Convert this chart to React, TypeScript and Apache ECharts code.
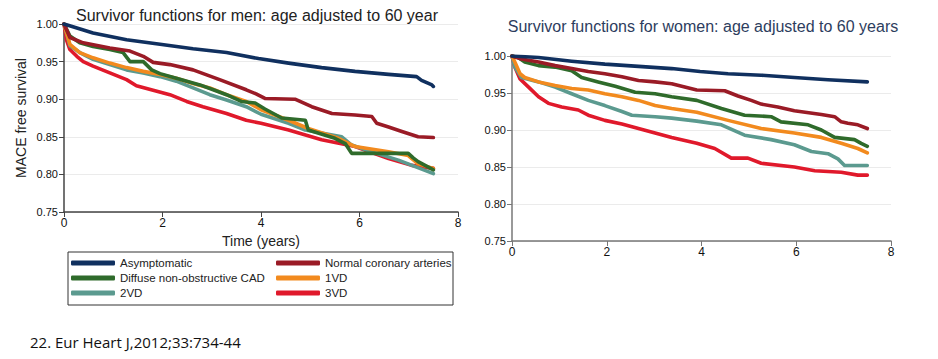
import React, { useEffect, useRef } from "react";
import * as echarts from "echarts";

const seriesNames = ["Asymptomatic", "Normal coronary arteries", "Diffuse non-obstructive CAD", "1VD", "2VD", "3VD"];
const seriesColors = ["#10305f", "#9a1b26", "#2f6b2b", "#f28a1e", "#5b9a8f", "#e0192b"];

const xTicks = [0, 2, 4, 6, 8];
const yTicks = [0.75, 0.8, 0.85, 0.9, 0.95, 1.0];

// Men: [time (years), MACE free survival]
const menAsymptomatic = [[0, 1], [0.59, 0.988], [1.27, 0.979], [1.95, 0.973], [2.62, 0.967], [3.3, 0.962], [3.95, 0.954], [4.56, 0.948], [5.23, 0.942], [5.91, 0.937], [6.59, 0.933], [7.16, 0.93], [7.26, 0.925], [7.47, 0.919], [7.5, 0.917]];
const menNormal = [[0, 1], [0.12, 0.982], [0.39, 0.975], [0.93, 0.968], [1.34, 0.964], [1.61, 0.957], [1.81, 0.949], [2.15, 0.946], [2.62, 0.939], [3.16, 0.926], [3.7, 0.9125], [3.9, 0.907], [4.08, 0.901], [4.69, 0.9], [5.03, 0.89], [5.44, 0.881], [5.91, 0.879], [6.25, 0.877], [6.35, 0.868], [6.59, 0.863], [6.86, 0.857], [7.19, 0.85], [7.5, 0.849]];
const menDiffuse = [[0, 1], [0.12, 0.984], [0.32, 0.975], [0.59, 0.97], [0.93, 0.966], [1.2, 0.962], [1.34, 0.95], [1.61, 0.95], [1.78, 0.939], [1.95, 0.934], [2.28, 0.928], [2.76, 0.919], [3.03, 0.9125], [3.3, 0.906], [3.6, 0.897], [3.88, 0.895], [4.08, 0.887], [4.42, 0.875], [4.9, 0.872], [4.96, 0.859], [5.5, 0.848], [5.71, 0.841], [5.84, 0.828], [6.99, 0.828], [7.09, 0.822], [7.19, 0.817], [7.5, 0.806]];
const men1VD = [[0, 1], [0.12, 0.973], [0.32, 0.962], [0.59, 0.955], [0.93, 0.948], [1.27, 0.942], [1.61, 0.937], [1.95, 0.933], [2.28, 0.928], [2.62, 0.921], [2.96, 0.915], [3.3, 0.906], [3.7, 0.897], [4.0, 0.886], [4.56, 0.872], [4.96, 0.861], [5.57, 0.848], [5.91, 0.837], [6.59, 0.83], [6.99, 0.825], [7.19, 0.814], [7.5, 0.808]];
const men2VD = [[0, 1], [0.12, 0.971], [0.32, 0.962], [0.59, 0.953], [0.93, 0.946], [1.27, 0.939], [1.61, 0.935], [1.95, 0.93], [2.28, 0.924], [2.62, 0.915], [2.96, 0.906], [3.3, 0.899], [3.7, 0.89], [4.0, 0.88], [4.56, 0.868], [4.9, 0.859], [5.64, 0.85], [5.84, 0.839], [6.25, 0.83], [6.79, 0.819], [7.5, 0.801]];
const men3VD = [[0, 1], [0.05, 0.979], [0.12, 0.966], [0.26, 0.957], [0.39, 0.95], [0.59, 0.944], [0.93, 0.935], [1.27, 0.926], [1.47, 0.918], [1.81, 0.912], [2.15, 0.906], [2.49, 0.897], [2.82, 0.89], [3.3, 0.881], [3.7, 0.872], [4.0, 0.868], [4.56, 0.859], [5.23, 0.846], [5.91, 0.837], [6.59, 0.821], [7.06, 0.812], [7.5, 0.808]];

// Women: [time (years), MACE free survival]
const womenAsymptomatic = [[0, 1], [0.56, 0.998], [1.26, 0.993], [1.96, 0.989], [2.67, 0.986], [3.37, 0.983], [3.97, 0.979], [4.56, 0.976], [5.26, 0.974], [5.96, 0.971], [6.67, 0.968], [7.5, 0.965]];
const womenNormal = [[0, 1], [0.2, 0.996], [0.56, 0.992], [0.91, 0.987], [1.26, 0.983], [1.61, 0.979], [1.96, 0.976], [2.32, 0.972], [2.67, 0.967], [3.02, 0.965], [3.37, 0.9625], [3.9, 0.954], [4.49, 0.953], [4.77, 0.946], [5.05, 0.94], [5.26, 0.935], [5.61, 0.931], [5.96, 0.926], [6.53, 0.921], [6.81, 0.918], [6.95, 0.911], [7.09, 0.909], [7.3, 0.907], [7.5, 0.902]];
const womenDiffuse = [[0, 1], [0.13, 0.998], [0.27, 0.992], [0.56, 0.987], [0.91, 0.985], [1.26, 0.98], [1.47, 0.971], [1.82, 0.965], [2.18, 0.959], [2.6, 0.951], [3.02, 0.949], [3.37, 0.945], [3.9, 0.94], [4.42, 0.929], [4.91, 0.92], [5.47, 0.918], [5.68, 0.911], [6.25, 0.907], [6.53, 0.9], [6.81, 0.89], [7.23, 0.887], [7.37, 0.882], [7.5, 0.878]];
const women1VD = [[0, 1], [0.06, 0.992], [0.17, 0.976], [0.27, 0.971], [0.56, 0.965], [0.91, 0.96], [1.26, 0.956], [1.61, 0.954], [1.96, 0.949], [2.32, 0.945], [2.67, 0.94], [3.02, 0.933], [3.37, 0.929], [3.9, 0.924], [4.56, 0.913], [5.26, 0.902], [5.96, 0.896], [6.53, 0.89], [6.95, 0.882], [7.3, 0.875], [7.5, 0.869]];
const women2VD = [[0, 1], [0.06, 0.985], [0.2, 0.971], [0.56, 0.965], [0.91, 0.958], [1.26, 0.949], [1.61, 0.94], [1.96, 0.933], [2.32, 0.925], [2.53, 0.92], [3.02, 0.918], [3.37, 0.916], [3.9, 0.912], [4.42, 0.907], [4.91, 0.893], [5.47, 0.887], [5.96, 0.88], [6.32, 0.871], [6.67, 0.868], [6.88, 0.861], [7.02, 0.852], [7.5, 0.852]];
const women3VD = [[0, 1], [0.06, 0.985], [0.17, 0.969], [0.35, 0.958], [0.56, 0.945], [0.77, 0.936], [1.05, 0.931], [1.4, 0.927], [1.61, 0.92], [1.96, 0.913], [2.32, 0.908], [2.67, 0.902], [3.02, 0.896], [3.37, 0.89], [3.9, 0.882], [4.28, 0.875], [4.63, 0.862], [4.98, 0.862], [5.26, 0.855], [5.96, 0.85], [6.39, 0.845], [6.95, 0.843], [7.3, 0.839], [7.5, 0.839]];

const menData = [menAsymptomatic, menNormal, menDiffuse, men1VD, men2VD, men3VD];
const womenData = [womenAsymptomatic, womenNormal, womenDiffuse, women1VD, women2VD, women3VD];

const FONT = "'Liberation Sans', Arial, sans-serif";

export default function App() {
  const ref = useRef<HTMLDivElement>(null);
  useEffect(() => {
    const chart = echarts.init(ref.current!, null, { renderer: "svg" });
    const xAxisBase = (gridIndex: number, axisColor: string) => ({
      type: "value",
      gridIndex,
      min: xTicks[0],
      max: xTicks[xTicks.length - 1],
      interval: 2,
      axisLine: { show: true, lineStyle: { color: axisColor, width: 1.5 } },
      axisTick: { show: true, length: 5, lineStyle: { color: axisColor } },
      axisLabel: { color: "#111", fontSize: 12, fontFamily: FONT, margin: 5 },
      splitLine: { show: false },
    });
    const yAxisBase = (gridIndex: number, axisColor: string) => ({
      type: "value",
      gridIndex,
      min: yTicks[0],
      max: yTicks[yTicks.length - 1],
      interval: 0.05,
      axisLine: { show: true, lineStyle: { color: axisColor, width: 1.5 } },
      axisTick: { show: true, length: 5, lineStyle: { color: axisColor } },
      axisLabel: {
        color: "#111",
        fontSize: 11,
        fontFamily: FONT,
        margin: 6,
        formatter: (v: number) => v.toFixed(2),
      },
      splitLine: { show: true, lineStyle: { color: "#ebebeb", width: 1 } },
    });
    const makeSeries = (data: number[][][], axisIndex: number) =>
      data.map((d, i) => ({
        name: seriesNames[i],
        type: "line",
        xAxisIndex: axisIndex,
        yAxisIndex: axisIndex,
        data: d,
        showSymbol: false,
        symbol: "none",
        color: seriesColors[i],
        lineStyle: { width: 3.6, color: seriesColors[i], cap: "round", join: "round" },
        z: 10 - i,
      }));
    const legendBase = {
      orient: "vertical",
      top: 257,
      itemWidth: 44,
      itemHeight: 5,
      itemGap: 3,
      icon: "roundRect",
      selectedMode: false,
      textStyle: { fontSize: 11.5, color: "#222", fontFamily: FONT },
      padding: 0,
    };
    chart.setOption({
      animation: false,
      backgroundColor: "#ffffff",
      title: [
        {
          text: "Survivor functions for men: age adjusted to 60 year",
          left: 252,
          textAlign: "center",
          top: 2,
          textStyle: { fontSize: 16, fontWeight: "normal", color: "#222", fontFamily: FONT },
        },
        {
          text: "Survivor functions for women: age adjusted to 60 years",
          left: 698,
          textAlign: "center",
          top: 13,
          textStyle: { fontSize: 16, fontWeight: "normal", color: "#2d3d5e", fontFamily: FONT },
        },
      ],
      grid: [
        { left: 64, top: 24, width: 394, height: 188 },
        { left: 512, top: 56, width: 379, height: 185 },
      ],
      xAxis: [
        {
          ...xAxisBase(0, "#444"),
          name: "Time (years)",
          nameLocation: "middle",
          nameGap: 21,
          nameTextStyle: { fontSize: 14, color: "#222", fontFamily: FONT },
        },
        xAxisBase(1, "#777"),
      ],
      yAxis: [
        {
          ...yAxisBase(0, "#444"),
          name: "MACE free survival",
          nameLocation: "middle",
          nameGap: 36,
          nameTextStyle: { fontSize: 14, color: "#222", fontFamily: FONT },
        },
        yAxisBase(1, "#777"),
      ],
      legend: [
        { ...legendBase, left: 71, data: [seriesNames[0], seriesNames[2], seriesNames[4]] },
        { ...legendBase, left: 276, data: [seriesNames[1], seriesNames[3], seriesNames[5]] },
      ],
      graphic: [
        {
          type: "rect",
          shape: { x: 68, y: 252, width: 385, height: 53 },
          style: { fill: "none", stroke: "#333", lineWidth: 1 },
          silent: true,
        },
        {
          type: "text",
          x: 30,
          y: 334,
          style: {
            text: "22. Eur Heart J,2012;33:734-44",
            fontSize: 15,
            fill: "#111",
            fontFamily: "'Open Sans', 'Noto Sans', sans-serif",
          },
        },
      ],
      series: [...makeSeries(menData, 0), ...makeSeries(womenData, 1)],
    });
    return () => chart.dispose();
  }, []);
  return (
    <div
      ref={ref}
      style={{ position: "fixed", left: 0, top: 0, width: 938, height: 359, background: "#fff" }}
    />
  );
}
